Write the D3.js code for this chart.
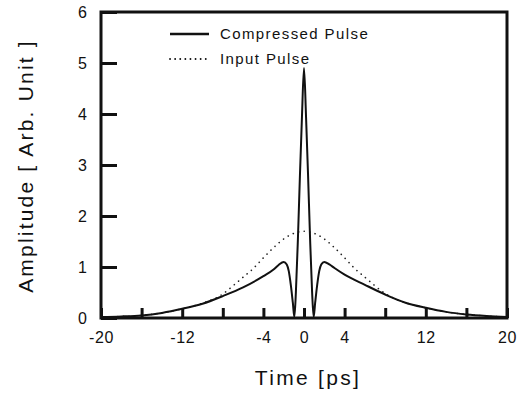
<!DOCTYPE html>
<html>
<head>
<meta charset="utf-8">
<script src="https://cdn.jsdelivr.net/npm/d3@7"></script>
<style>
  body { margin: 0; background: #fff; }
  text { font-family: "Liberation Sans", Arial, sans-serif; fill: #111; }
</style>
</head>
<body>
<div id="chart"></div>
<script>
/* DATA */
// compressed pulse (solid)
const timeC = [-20, -18, -16, -14, -12, -10, -8, -6, -4, -3, -2.5, -2, -1.7, -1.5, -1.3, -1.1, -0.95,
  -0.8, -0.6, -0.4, -0.2, 0, 0.2, 0.4, 0.6, 0.8,
  0.95, 1.1, 1.3, 1.5, 1.7, 2, 2.5, 3, 4, 6, 8, 10, 12, 14, 16, 18, 20];
const ampC = [0.02, 0.03, 0.05, 0.1, 0.18, 0.28, 0.43, 0.6, 0.82, 0.95, 1.04, 1.1, 1.05, 0.92, 0.65, 0.3, 0.02,
  0.5, 1.55, 2.8, 3.95, 4.9, 3.95, 2.8, 1.55, 0.5,
  0.02, 0.3, 0.65, 0.92, 1.05, 1.1, 1.05, 0.98, 0.85, 0.65, 0.46, 0.3, 0.2, 0.12, 0.07, 0.04, 0.02];

// input pulse (dotted)
const timeI = [-20, -18, -16, -14, -12, -10, -8, -7, -6, -5, -4, -3, -2, -1, 0, 1, 2, 3, 4, 5, 6, 7, 8, 10, 12, 14, 16, 18, 20];
const ampI = [0.02, 0.03, 0.05, 0.1, 0.18, 0.29, 0.47, 0.63, 0.8, 0.97, 1.18, 1.38, 1.55, 1.66, 1.7,
  1.66, 1.55, 1.38, 1.18, 0.97, 0.8, 0.63, 0.48, 0.3, 0.2, 0.12, 0.07, 0.04, 0.02];

const xTicks = [-20, -16, -12, -8, -4, 0, 4, 8, 12, 16, 20];
const xLabels = [-20, -12, -4, 0, 4, 12, 20];
const yTicks = [0, 1, 2, 3, 4, 5, 6];

const legendNames = ["Compressed Pulse", "Input Pulse"];

/* CONSTANTS */
const width = 530, height = 394;
const margin = { top: 12, right: 23, bottom: 76, left: 101 };

const svg = d3.select("#chart")
  .append("svg")
  .attr("width", width)
  .attr("height", height);

const x = d3.scaleLinear()
  .domain([-20, 20])
  .range([margin.left, width - margin.right]);

const y = d3.scaleLinear()
  .domain([0, 6])
  .range([height - margin.bottom, margin.top]);

// axes, ticks pointing inward
const xAxis = svg.append("g")
  .attr("transform", `translate(0,${height - margin.bottom})`)
  .call(d3.axisBottom(x)
    .tickValues(xTicks)
    .tickSize(-10)
    .tickPadding(14)
    .tickFormat(d => xLabels.includes(d) ? d : ""));

const yAxis = svg.append("g")
  .attr("transform", `translate(${margin.left},0)`)
  .call(d3.axisLeft(y)
    .tickValues(yTicks)
    .tickSize(-16)
    .tickPadding(14)
    .tickFormat(d3.format("d")));

[xAxis, yAxis].forEach(g => {
  g.select(".domain").remove();
  g.selectAll(".tick line").attr("stroke", "#111").attr("stroke-width", 3);
  g.selectAll(".tick text").attr("fill", "#111");
});
xAxis.selectAll(".tick text").style("font-size", "16px").attr("letter-spacing", "0.6px");
yAxis.selectAll(".tick text").style("font-size", "16px");

// frame
svg.append("rect")
  .attr("x", x(-20))
  .attr("y", y(6))
  .attr("width", x(20) - x(-20))
  .attr("height", y(0) - y(6))
  .attr("fill", "none")
  .attr("stroke", "#111")
  .attr("stroke-width", 3);

// curves
const line = d3.line()
  .x(d => x(d[0]))
  .y(d => y(d[1]))
  .curve(d3.curveMonotoneX);

svg.append("path")
  .datum(d3.zip(timeI, ampI))
  .attr("d", line)
  .attr("fill", "none")
  .attr("stroke", "#222")
  .attr("stroke-width", 1.6)
  .attr("stroke-linecap", "round")
  .attr("stroke-dasharray", "0.1,5.5");

svg.append("path")
  .datum(d3.zip(timeC, ampC))
  .attr("d", line)
  .attr("fill", "none")
  .attr("stroke", "#111")
  .attr("stroke-width", 2);

// legend
const legend = svg.append("g");
legendNames.forEach((name, i) => {
  const ly = 34 + i * 25;
  legend.append("line")
    .attr("x1", 170).attr("x2", 209)
    .attr("y1", ly).attr("y2", ly)
    .attr("stroke", "#111")
    .attr("stroke-width", i === 0 ? 2.5 : 1.8)
    .attr("stroke-linecap", i === 0 ? "butt" : "round")
    .attr("stroke-dasharray", i === 0 ? null : "0.1,5");
  legend.append("text")
    .attr("x", 220)
    .attr("y", ly + 5)
    .style("font-size", "15px")
    .attr("letter-spacing", "1.4px")
    .text(name);
});

// axis titles
svg.append("text")
  .attr("x", x(0) + 4)
  .attr("y", 385)
  .attr("text-anchor", "middle")
  .style("font-size", "21px")
  .attr("letter-spacing", "2.3px")
  .text("Time [ps]");

svg.append("text")
  .attr("transform", `translate(33,${166}) rotate(-90)`)
  .attr("text-anchor", "middle")
  .style("font-size", "21px")
  .attr("letter-spacing", "2.2px")
  .text("Amplitude [ Arb. Unit ]");
</script>
</body>
</html>
